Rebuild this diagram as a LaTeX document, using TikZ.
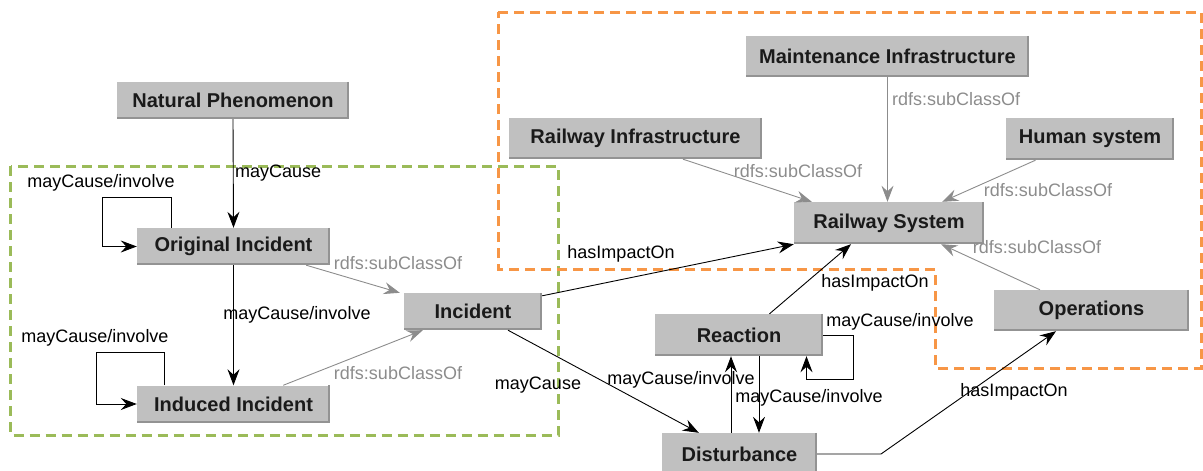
\documentclass[tikz,border=0pt]{standalone}
\usepackage{fontspec}
\setmainfont{Liberation Sans}
\usetikzlibrary{arrows.meta,calc}
\definecolor{boxfill}{HTML}{C0C0C0}
\definecolor{boxedge}{HTML}{939393}
\definecolor{subgray}{HTML}{8C8C8C}
\definecolor{orangeframe}{HTML}{F79646}
\definecolor{greenframe}{HTML}{9BBB59}
\definecolor{txt}{HTML}{1A1A1A}
\begin{document}
\begin{tikzpicture}[x=1pt,y=-1pt,
 cls/.style={fill=boxfill, inner sep=0pt, text=txt, font=\fontsize{20}{24}\selectfont\bfseries},
 rel/.style={draw=black, line width=0.9pt, -{Stealth[length=16pt,width=12pt,inset=5.5pt]}},
 sub/.style={draw=subgray, line width=0.9pt, -{Stealth[length=16pt,width=12pt,inset=5.5pt]}},
 rlab/.style={font=\fontsize{18}{22}\selectfont, text=black, inner sep=0pt},
 slab/.style={font=\fontsize{18}{22}\selectfont, text=subgray, inner sep=0pt},
 dashframe/.style={line width=3pt, dash pattern=on 10pt off 6pt}
]
\useasboundingbox (0,0) rectangle (1203,471);

% frames
\draw[dashframe, greenframe] (10.5,166) rectangle (558,435);
\draw[dashframe, orangeframe] (498,12) -- (1201,12) -- (1201,368) -- (935,368) -- (935,269) -- (498,269) -- cycle;

% nodes
\node[cls, minimum width=232pt, minimum height=37pt] (np) at (233,100.5) {Natural Phenomenon};
\node[cls, minimum width=193pt, minimum height=37pt] (oi) at (233.5,246.5) {Original Incident};
\node[cls, minimum width=193pt, minimum height=37pt] (ii) at (233.5,404) {Induced Incident};
\node[cls, minimum width=138pt, minimum height=37pt] (inc) at (473,311.5) {Incident};
\node[cls, minimum width=190pt, minimum height=42pt] (rs) at (889,223) {Railway System};
\node[cls, minimum width=283pt, minimum height=41pt] (mi) at (887.5,56.5) {Maintenance Infrastructure};
\node[cls, minimum width=253pt, minimum height=41pt] (ri) at (635.5,138.5) {Railway Infrastructure};
\node[cls, minimum width=168pt, minimum height=42pt] (hs) at (1090,139) {Human system};
\node[cls, minimum width=195pt, minimum height=41pt] (op) at (1091.5,310.5) {Operations};
\node[cls, minimum width=168pt, minimum height=42pt] (re) at (739,335) {Reaction};
\node[cls, minimum width=155pt, minimum height=42pt] (di) at (739.5,454) {Disturbance};

\foreach \n in {np,oi,ii,inc,rs,mi,ri,hs,op,re,di}
  \draw[boxedge, line width=2pt] ([xshift=-1pt]\n.north east) -- ([xshift=-1pt,yshift=1pt]\n.south east) -- ([yshift=1pt]\n.south west);

% black relations
\draw[rel] (np.south) -- (oi.north);
\node[rlab, anchor=west] (l1) at (235,173) {mayCause};
\draw[rel] (oi.south) -- (ii.north);
\node[rlab] (l2) at (297,315) {mayCause/involve};
\draw[rel] ([xshift=34.5pt]oi.north west) |- (102,197) |- (oi.west);
\node[rlab] (l3) at (101,183) {mayCause/involve};
\draw[rel] ([xshift=27.6pt]ii.north west) |- (96,352) |- (ii.west);
\node[rlab] (l4) at (95,338) {mayCause/involve};
\draw[rel] ([yshift=-3pt]inc.north east) -- (rs.south west);
\node[rlab] (l5) at (621,254) {hasImpactOn};
\draw[rel] ([xshift=35pt]inc.south) -- ([xshift=37pt]di.north west);
\node[rlab] (l6) at (538,385) {mayCause};
\draw[rel] ([xshift=-8.5pt]di.north) -- ([xshift=-8.5pt]di.north |- re.south);
\node[rlab] (l7) at (681,380) {mayCause/involve};
\draw[rel] ([xshift=20pt]re.south) -- ([xshift=20pt]re.south |- di.north);
\node[rlab] (l8) at (809,398) {mayCause/involve};
\draw[rel] (re.east) -| (853.5,379) -| ([xshift=67.5pt]re.south);
\node[rlab] (l9) at (900,322) {mayCause/involve};
\draw[rel] ([xshift=30.5pt]re.north) -- ([xshift=-38pt]rs.south);
\node[rlab] (l10) at (875,283) {hasImpactOn};
\draw[rel] (di.east) -- (881,454) -- ([xshift=-35.5pt]op.south);
\node[rlab] (l11) at (1014,392) {hasImpactOn};

% subclass relations
\draw[sub] ([xshift=-24pt]oi.south east) -- ([xshift=-4pt]inc.north west);
\node[slab] (s1) at (398,263) {rdfs:subClassOf};
\draw[sub] ([xshift=-47pt]ii.north east) -- ([xshift=19pt]inc.south west);
\node[slab] (s2) at (398,373) {rdfs:subClassOf};
\draw[sub] ([xshift=-51.5pt]op.north) -- ([xshift=-43pt]rs.south east);
\node[slab] (s3) at (1037,247) {rdfs:subClassOf};
\draw[sub] ([xshift=-54.5pt]hs.south) -- ([xshift=-42pt]rs.north east);
\node[slab] (s4) at (1048,190) {rdfs:subClassOf};
\draw[sub] (mi.south) -- (mi.south |- rs.north);
\node[slab, anchor=west] (s5) at (892,99) {rdfs:subClassOf};
\draw[sub] ([xshift=47.5pt]ri.south) -- ([xshift=18pt]rs.north west);
\node[slab] (s6) at (798,171) {rdfs:subClassOf};
\end{tikzpicture}
\end{document}
